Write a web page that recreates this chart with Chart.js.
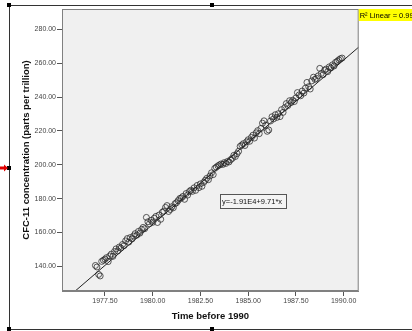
<!DOCTYPE html>
<html>
<head>
<meta charset="utf-8">
<script src="https://cdn.jsdelivr.net/npm/chart.js@4.4.1/dist/chart.umd.min.js"></script>
<style>
  html, body { margin: 0; padding: 0; background: #fff; }
  canvas { display: block; }
</style>
</head>
<body>
<canvas id="cfcChart" width="412" height="331"></canvas>
<script>
const years = [
  1977.00, 1977.08, 1977.17, 1977.25, 1977.33, 1977.42, 1977.50, 1977.58, 1977.67, 1977.75, 1977.83, 1977.92,
  1978.00, 1978.08, 1978.17, 1978.25, 1978.33, 1978.42, 1978.50, 1978.58, 1978.67, 1978.75, 1978.83, 1978.92,
  1979.00, 1979.08, 1979.17, 1979.25, 1979.33, 1979.42, 1979.50, 1979.58, 1979.67, 1979.75, 1979.83, 1979.92,
  1980.00, 1980.08, 1980.17, 1980.25, 1980.33, 1980.42, 1980.50, 1980.58, 1980.67, 1980.75, 1980.83, 1980.92,
  1981.00, 1981.08, 1981.17, 1981.25, 1981.33, 1981.42, 1981.50, 1981.58, 1981.67, 1981.75, 1981.83, 1981.92,
  1982.00, 1982.08, 1982.17, 1982.25, 1982.33, 1982.42, 1982.50, 1982.58, 1982.67, 1982.75, 1982.83, 1982.92,
  1983.00, 1983.08, 1983.17, 1983.25, 1983.33, 1983.42, 1983.50, 1983.58, 1983.67, 1983.75, 1983.83, 1983.92,
  1984.00, 1984.08, 1984.17, 1984.25, 1984.33, 1984.42, 1984.50, 1984.58, 1984.67, 1984.75, 1984.83, 1984.92,
  1985.00, 1985.08, 1985.17, 1985.25, 1985.33, 1985.42, 1985.50, 1985.58, 1985.67, 1985.75, 1985.83, 1985.92,
  1986.00, 1986.08, 1986.17, 1986.25, 1986.33, 1986.42, 1986.50, 1986.58, 1986.67, 1986.75, 1986.83, 1986.92,
  1987.00, 1987.08, 1987.17, 1987.25, 1987.33, 1987.42, 1987.50, 1987.58, 1987.67, 1987.75, 1987.83, 1987.92,
  1988.00, 1988.08, 1988.17, 1988.25, 1988.33, 1988.42, 1988.50, 1988.58, 1988.67, 1988.75, 1988.83, 1988.92,
  1989.00, 1989.08, 1989.17, 1989.25, 1989.33, 1989.42, 1989.50, 1989.58, 1989.67, 1989.75, 1989.83, 1989.92
];
const cfc11 = [
  140.5, 139.6, 135.2, 134.3, 142.9, 143.6, 144.2, 145.1, 142.8, 146.1, 147.2, 145.9,
  148.7, 150.3, 149.1, 151.4, 150.8, 152.9, 152.2, 155.0, 156.4, 154.3, 157.0, 156.2,
  157.9, 159.3, 158.4, 160.6, 159.6, 161.8, 163.0, 162.2, 168.9, 166.3, 165.1, 167.2,
  166.0, 168.4, 169.5, 165.9, 170.3, 167.8, 171.9, 172.6, 174.8, 175.9, 172.4, 173.6,
  175.2, 174.6, 177.0, 177.6, 178.8, 180.1, 180.4, 181.3, 179.6, 183.0, 182.1, 184.2,
  185.0, 184.3, 186.4, 184.9, 187.8, 186.5, 188.7, 187.3, 189.6, 190.8, 192.0, 191.2,
  193.4, 195.3, 194.2, 197.9, 198.6, 199.4, 199.9, 200.5, 200.2, 201.3, 200.8, 202.0,
  201.7, 203.0, 203.8, 205.6, 204.9, 206.6, 208.0, 210.9, 211.7, 212.5, 211.4, 213.6,
  214.8, 213.9, 216.2, 217.5, 215.8, 218.9, 220.2, 218.4, 221.5, 224.6, 226.0, 223.4,
  219.8, 220.6, 225.9, 228.4, 227.1, 229.6, 228.0, 230.2, 228.5, 232.6, 231.0, 233.8,
  236.2, 235.0, 237.9, 236.8, 238.2, 237.4, 239.5, 242.7, 241.3, 240.8, 243.6, 242.4,
  245.3, 248.7, 246.2, 244.8, 249.6, 251.8, 250.5, 251.1, 252.6, 257.0, 254.0, 253.2,
  255.8, 256.6, 255.1, 257.9, 257.2, 259.1, 258.4, 260.6, 261.2, 262.0, 262.7, 263.1
];
const xTicks = [1977.5, 1980, 1982.5, 1985, 1987.5, 1990];
const yTicks = [140, 160, 180, 200, 220, 240, 260, 280];
const xRange = [1975.25, 1990.79];
const yRange = [125.4, 292.1];
const fitIntercept = -19061;
const fitSlope = 9.71;
const equationText = 'y=-1.91E4+9.71*x';
const rSquaredText = 'R\u00b2 Linear = 0.996';

const FONT = '"Liberation Sans", Arial, sans-serif';

const points = years.map((t, i) => ({ x: t, y: cfc11[i] }));
const fitLine = xRange.map(t => ({ x: t, y: fitIntercept + fitSlope * t }));

// SPSS-like decorations: plot background, frame, handles, text boxes
const spssDecor = {
  id: 'spssDecor',
  beforeDatasetsDraw(chart) {
    const { ctx, chartArea: a } = chart;
    ctx.save();
    ctx.fillStyle = '#f0f0f0';
    ctx.fillRect(a.left, a.top, a.right - a.left, a.bottom - a.top);
    ctx.restore();
  },
  afterDraw(chart) {
    const { ctx, chartArea: a, scales } = chart;
    ctx.save();
    // plot border
    ctx.strokeStyle = '#808080';
    ctx.lineWidth = 1;
    ctx.strokeRect(a.left + 0.5, a.top + 0.5, a.right - a.left - 1, a.bottom - a.top - 1);

    // outer frame
    ctx.strokeStyle = '#333';
    ctx.beginPath();
    ctx.moveTo(412, 5.5); ctx.lineTo(9.5, 5.5); ctx.lineTo(9.5, 329.5); ctx.lineTo(412, 329.5);
    ctx.stroke();
    ctx.fillStyle = '#000';
    [[9, 5], [212, 5], [9, 168], [9, 329], [212, 329]].forEach(([x, y]) => {
      ctx.fillRect(x - 2, y - 2, 4, 4);
    });
    // red arrow on left
    ctx.fillStyle = '#e00000';
    ctx.beginPath();
    ctx.moveTo(0, 166.5); ctx.lineTo(4, 166.5); ctx.lineTo(4, 164.5); ctx.lineTo(8, 168);
    ctx.lineTo(4, 171.5); ctx.lineTo(4, 169.5); ctx.lineTo(0, 169.5);
    ctx.closePath();
    ctx.fill();

    // R squared label
    ctx.fillStyle = '#ffff00';
    ctx.fillRect(a.right, 9, 412 - a.right, 12);
    ctx.fillStyle = '#000';
    ctx.font = '7.5px ' + FONT;
    ctx.textBaseline = 'middle';
    ctx.textAlign = 'left';
    ctx.fillText(rSquaredText, a.right + 1, 15.5);

    // equation label
    const ex = Math.round(scales.x.getPixelForValue(1983.55));
    const ey = Math.round(scales.y.getPixelForValue(182.8));
    ctx.font = '7.5px ' + FONT;
    const w = 66;
    ctx.fillStyle = '#f4f4f4';
    ctx.fillRect(ex, ey, w, 14);
    ctx.strokeStyle = '#555';
    ctx.strokeRect(ex + 0.5, ey + 0.5, w, 14);
    ctx.fillStyle = '#111';
    ctx.fillText(equationText, ex + 2, ey + 7.5);
    ctx.restore();
  }
};

const ctx = document.getElementById('cfcChart').getContext('2d');
const cfcChart = new Chart(ctx, {
  type: 'scatter',
  data: {
    datasets: [
      {
        label: 'CFC-11',
        data: points,
        pointStyle: 'circle',
        pointRadius: 3,
        pointBorderWidth: 0.9,
        pointBorderColor: 'rgba(40,40,40,0.85)',
        pointBackgroundColor: 'rgba(0,0,0,0)',
        order: 2
      },
      {
        type: 'line',
        label: 'Linear',
        data: fitLine,
        borderColor: '#222',
        borderWidth: 1,
        pointRadius: 0,
        fill: false,
        order: 1
      }
    ]
  },
  options: {
    responsive: false,
    animation: false,
    layout: { padding: { left: 0, top: 9, right: 412 - 358.7, bottom: 0 } },
    plugins: {
      legend: { display: false },
      tooltip: { enabled: false }
    },
    scales: {
      x: {
        type: 'linear',
        min: xRange[0],
        max: xRange[1],
        afterFit: s => { s.height = 40; },
        afterBuildTicks: s => { s.ticks = xTicks.map(v => ({ value: v })); },
        ticks: {
          padding: 1,
          color: '#444',
          font: { family: FONT, size: 7 },
          maxRotation: 0,
          callback: v => Number(v).toFixed(2)
        },
        grid: { drawOnChartArea: false, tickLength: 5, color: '#555' },
        border: { color: '#808080' },
        title: {
          display: true,
          text: 'Time before 1990',
          color: '#111',
          font: { family: FONT, size: 9.5, weight: 'bold' },
          padding: { top: 0, bottom: 9 }
        }
      },
      y: {
        type: 'linear',
        min: yRange[0],
        max: yRange[1],
        afterFit: s => { s.width = 62; },
        afterBuildTicks: s => { s.ticks = yTicks.map(v => ({ value: v })); },
        ticks: {
          padding: 1,
          color: '#444',
          font: { family: FONT, size: 7 },
          callback: v => Number(v).toFixed(2)
        },
        grid: { drawOnChartArea: false, tickLength: 5, color: '#555' },
        border: { color: '#808080' },
        title: {
          display: true,
          text: 'CFC-11 concentration (parts per trillion)',
          color: '#111',
          font: { family: FONT, size: 9.5, weight: 'bold' },
          padding: { top: 21, bottom: 0 }
        }
      }
    }
  },
  plugins: [spssDecor]
});
</script>
</body>
</html>
